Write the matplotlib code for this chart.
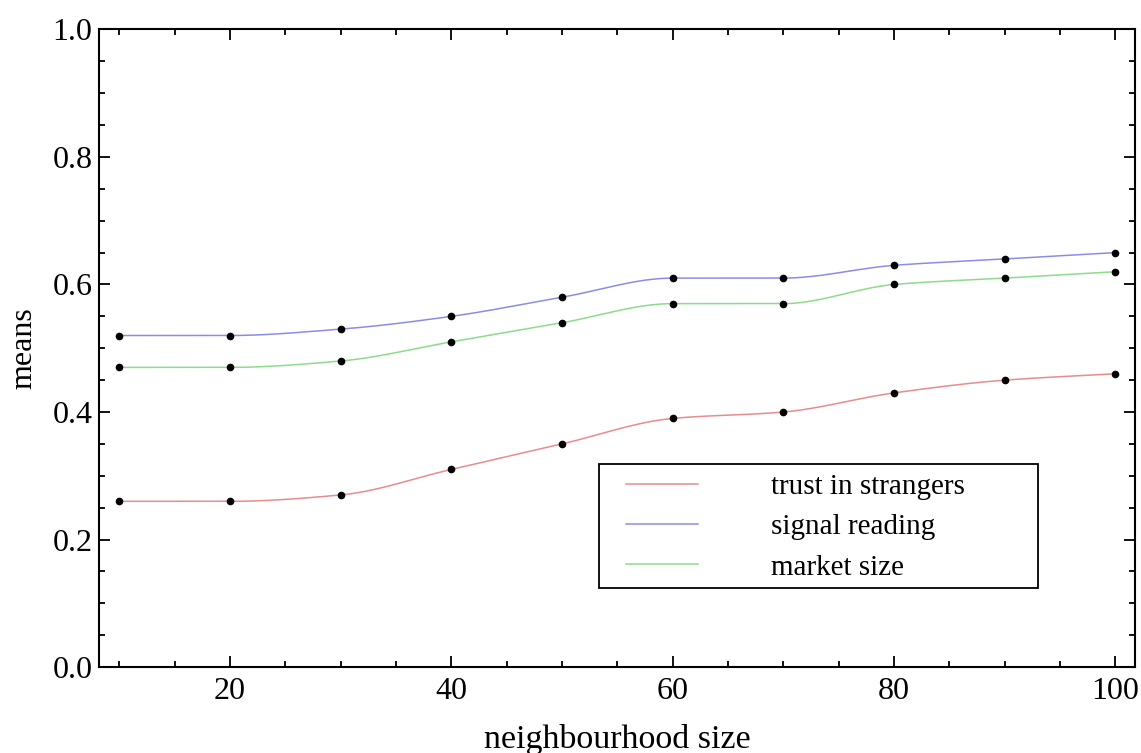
import numpy as np
import matplotlib.pyplot as plt
from matplotlib.patches import Rectangle
from matplotlib.ticker import MultipleLocator

# data
neighbourhood = [10, 20, 30, 40, 50, 60, 70, 80, 90, 100]
trust = [0.26, 0.26, 0.27, 0.31, 0.35, 0.39, 0.40, 0.43, 0.45, 0.46]
signal = [0.52, 0.52, 0.53, 0.55, 0.58, 0.61, 0.61, 0.63, 0.64, 0.65]
market = [0.47, 0.47, 0.48, 0.51, 0.54, 0.57, 0.57, 0.60, 0.61, 0.62]
labels = ['trust in strangers', 'signal reading', 'market size']
colors = ['#e88c8c', '#8c8ce8', '#8cdc8c']


def smooth(x, y, n=400):
    # monotone cubic (Fritsch-Carlson) curve through the points
    x = np.asarray(x, float)
    y = np.asarray(y, float)
    h = np.diff(x)
    d = np.diff(y) / h
    m = np.zeros_like(y)
    m[0], m[-1] = d[0], d[-1]
    for i in range(1, len(x) - 1):
        if d[i - 1] * d[i] > 0:
            w1 = 2 * h[i] + h[i - 1]
            w2 = h[i] + 2 * h[i - 1]
            m[i] = (w1 + w2) / (w1 / d[i - 1] + w2 / d[i])
    xs = np.linspace(x[0], x[-1], n)
    k = np.clip(np.searchsorted(x, xs) - 1, 0, len(x) - 2)
    t = (xs - x[k]) / h[k]
    h00 = 2 * t**3 - 3 * t**2 + 1
    h10 = t**3 - 2 * t**2 + t
    h01 = -2 * t**3 + 3 * t**2
    h11 = t**3 - t**2
    ys = h00 * y[k] + h10 * h[k] * m[k] + h01 * y[k + 1] + h11 * h[k] * m[k + 1]
    return xs, ys


plt.rcParams['font.family'] = ['Liberation Serif', 'DejaVu Serif']

fig = plt.figure(figsize=(11.41, 7.53), dpi=100)
ax = fig.add_axes([0.087, 0.114, 0.908, 0.847])

for ys, c, lab in zip([trust, signal, market], colors, labels):
    sx, sy = smooth(neighbourhood, ys)
    ax.plot(sx, sy, color=c, lw=1.1, label=lab)
for ys in [trust, signal, market]:
    ax.plot(neighbourhood, ys, 'o', color='black', ms=4.5, zorder=3)

ax.set_xlim(8.2, 101.8)
ax.set_ylim(0, 1.0)
ax.xaxis.set_major_locator(MultipleLocator(20))
ax.xaxis.set_minor_locator(MultipleLocator(5))
ax.yaxis.set_major_locator(MultipleLocator(0.2))
ax.yaxis.set_minor_locator(MultipleLocator(0.05))
ax.yaxis.set_major_formatter(plt.FuncFormatter(lambda v, p: f'{v:.1f}'))
ax.tick_params(which='both', direction='in', top=True, right=True,
               labelsize=23, width=1.3)
ax.tick_params(axis='y', pad=5)
ax.tick_params(axis='x', pad=7)
ax.tick_params(which='major', length=8)
ax.tick_params(which='minor', length=4.5)
for s in ax.spines.values():
    s.set_linewidth(1.5)

ax.set_xlabel('neighbourhood size', fontsize=24.5, labelpad=13)
ax.set_ylabel('means', fontsize=23, labelpad=10)

# legend box drawn separately so its size matches the original
ax.add_patch(Rectangle((0.482, 0.124), 0.424, 0.194, transform=ax.transAxes,
                       facecolor='white', edgecolor='black', lw=1.3, zorder=4))
leg = ax.legend(loc='upper left', bbox_to_anchor=(0.508, 0.303),
                fontsize=21, frameon=False, handlelength=2.5,
                handletextpad=2.5, labelspacing=0.47, borderpad=0,
                borderaxespad=0)
leg.set_zorder(5)

fig.savefig('out.png', dpi=100)
